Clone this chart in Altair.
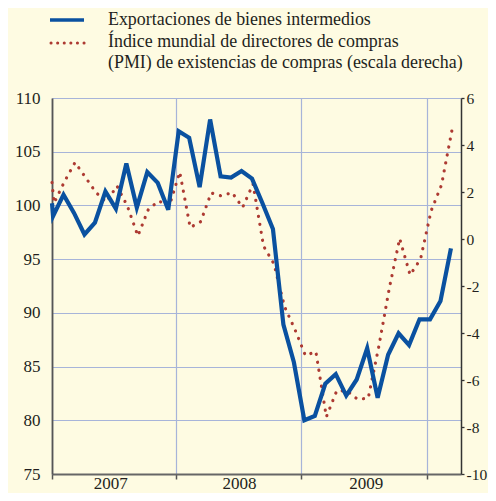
import altair as alt
import pandas as pd

# ---- data ----
blue_vals = [99.0, 101.0, 99.3, 97.3, 98.4, 101.3, 99.7, 103.9, 99.8, 103.1, 102.1, 99.6,
             106.9, 106.3, 101.7, 108.0, 102.7, 102.6, 103.2, 102.5, 100.2, 97.8, 88.9, 85.4,
             80.0, 80.4, 83.4, 84.3, 82.3, 83.8, 86.7, 82.1, 86.1, 88.1, 87.0, 89.4,
             89.4, 91.1, 96.0]
blue_start = 100.2
red_vals = [1.53, 2.45, 3.26, 2.62, 1.98, 1.57, 2.26, 1.40, 0.13, 1.26, 1.62, 1.40,
            2.85, 0.49, 0.74, 1.96, 1.83, 1.98, 1.34, 2.34, -0.30, -1.06, -2.87, -3.85,
            -4.96, -4.79, -7.57, -6.45, -6.47, -6.83, -6.77, -4.60, -2.13, 0.02, -1.53, -0.85,
            1.19, 2.30, 4.64]
red_start = 2.4
blue_offset = 0.1
red_offset = 0.2

year_labels = ["2007", "2008", "2009"]
year_centers = [5.6, 17.9, 30.0]
year_bounds = [0, 11.8, 23.8, 35.8]
left_ticks = [75, 80, 85, 90, 95, 100, 105, 110]
right_ticks = [-10, -8, -6, -4, -2, 0, 2, 4, 6]

legend_1 = "Exportaciones de bienes intermedios"
legend_2a = "Índice mundial de directores de compras"
legend_2b = "(PMI) de existencias de compras (escala derecha)"

blue_df = pd.DataFrame({
    "m": [0.0] + [i + blue_offset for i in range(len(blue_vals))],
    "v": [blue_start] + blue_vals,
})
red_df = pd.DataFrame({
    "m": [0.0] + [i + red_offset for i in range(len(red_vals))],
    "v": [red_start] + red_vals,
})
years_df = pd.DataFrame({"m": year_centers, "t": year_labels})

W, H = 409, 376
FONT = "Liberation Serif, Times New Roman, DejaVu Serif, serif"
TXT = "#231f20"
GRID = "#a7b4d9"
BLUE = "#0a51a0"
RED = "#ad3a32"
BG = "#fefbe2"

xscale = alt.Scale(domain=[0, 39.06], nice=False, zero=False)

x_axis = alt.Axis(values=year_bounds, grid=True, gridColor=GRID, gridWidth=1.2,
                  labels=False, ticks=True, tickSize=5, tickColor="#555", tickWidth=1.5,
                  domain=True, domainColor="#666", domainWidth=2, title=None)

red = alt.Chart(red_df).mark_line(
    color=RED, strokeWidth=3.2, strokeDash=[0.1, 8], strokeCap="round"
).encode(
    x=alt.X("m:Q", scale=xscale, axis=x_axis),
    y=alt.Y("v:Q", scale=alt.Scale(domain=[-10, 6], nice=False, zero=False),
            axis=alt.Axis(orient="right", values=right_ticks, grid=False, ticks=True,
                          tickSize=3, tickColor="#333", tickWidth=1.3,
                          domainColor="#333", domainWidth=1.5,
                          labelFont=FONT, labelFontSize=15.5, labelColor=TXT,
                          labelExpr="replace(datum.label, '\u2212', '-')",
                          labelAlign="left", labelPadding=2, title=None)),
)

blue = alt.Chart(blue_df).mark_line(
    color=BLUE, strokeWidth=4.2, strokeJoin="miter"
).encode(
    x=alt.X("m:Q", scale=xscale, axis=x_axis),
    y=alt.Y("v:Q", scale=alt.Scale(domain=[75, 110], nice=False, zero=False),
            axis=alt.Axis(orient="left", values=left_ticks, grid=True, gridColor=GRID,
                          gridWidth=1.2, ticks=False, tickSize=0,
                          domainColor="#555", domainWidth=1.8,
                          labelFont=FONT, labelFontSize=17, labelColor=TXT,
                          labelPadding=12, title=None)),
)

years = alt.Chart(years_df).mark_text(
    font=FONT, fontSize=17, color=TXT, baseline="alphabetic", align="center"
).encode(
    x=alt.X("m:Q", scale=xscale, axis=x_axis),
    y=alt.value(H + 15),
    text="t:N",
)

one = pd.DataFrame({"a": [0]})
leg_blue = alt.Chart(one).mark_rule(
    color=BLUE, strokeWidth=3.5
).encode(x=alt.value(-2), x2=alt.value(32), y=alt.value(-78))
leg_red = alt.Chart(one).mark_rule(
    color=RED, strokeWidth=3, strokeDash=[0.1, 6.5], strokeCap="round"
).encode(x=alt.value(-1), x2=alt.value(33), y=alt.value(-55))
leg_t1 = alt.Chart(one).mark_text(
    font=FONT, fontSize=17.9, color=TXT, align="left", baseline="alphabetic"
).encode(x=alt.value(56), y=alt.value(-73), text=alt.value(legend_1))
leg_t2 = alt.Chart(one).mark_text(
    font=FONT, fontSize=17.9, color=TXT, align="left", baseline="alphabetic"
).encode(x=alt.value(56), y=alt.value(-51), text=alt.value(legend_2a))
leg_t3 = alt.Chart(one).mark_text(
    font=FONT, fontSize=17.9, color=TXT, align="left", baseline="alphabetic"
).encode(x=alt.value(56), y=alt.value(-30), text=alt.value(legend_2b))

chart = alt.layer(
    red, blue, years, leg_blue, leg_red, leg_t1, leg_t2, leg_t3
).resolve_scale(y="independent").properties(
    width=W, height=H,
    padding={"left": 44, "top": 90, "right": 27, "bottom": 19},
    autosize=alt.AutoSizeParams(type="none"),
    background=BG,
).configure_view(stroke=None)

chart.save("out.html", embed_options={"renderer": "svg", "actions": False})
